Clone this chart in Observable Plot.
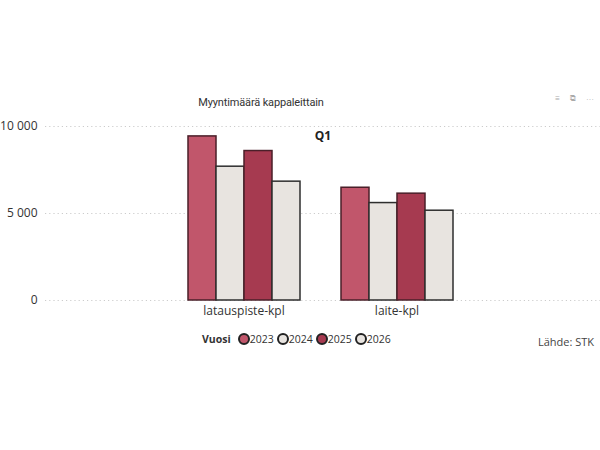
<!DOCTYPE html>
<html>
<head>
<meta charset="utf-8">
<script src="https://cdn.jsdelivr.net/npm/d3@7"></script>
<script src="https://cdn.jsdelivr.net/npm/@observablehq/plot@0.6"></script>
<style>
  html, body { margin: 0; padding: 0; background: #fff; }
  body { width: 600px; height: 450px; position: relative; overflow: hidden; font-family: "Open Sans", "Noto Sans", sans-serif; }
  #title { position: absolute; left: 161px; width: 200px; top: 96px; text-align: center; font-family: Roboto, "Open Sans", sans-serif; font-size: 11px; letter-spacing: -0.15px; color: #333; }
  #grid, #chart { position: absolute; left: 0; top: 116px; }
  #legend { position: absolute; left: 202px; top: 332px; font-size: 10.5px; color: #333; display: flex; align-items: center; white-space: nowrap; }
  #legend b { margin-right: 7px; font-size: 10.5px; }
  #legend .sw { display: inline-block; width: 8px; height: 8px; border-radius: 50%; border: 2px solid #222; margin-right: 0px; }
  #legend .it { display: flex; align-items: center; margin-right: 3px; }
  #source { position: absolute; right: 6px; top: 334px; font-size: 11px; color: #444; }
  #icons { position: absolute; right: 2px; top: 92px; font-size: 8px; color: #aaa; letter-spacing: 4px; }
</style>
</head>
<body>
<div id="title">Myyntimäärä kappaleittain</div>
<div id="icons">≡ ⧉ ⋯</div>
<div id="grid"></div>
<div id="chart"></div>
<div id="legend"></div>
<div id="source">Lähde: STK</div>
<script>
const categories = ["latauspiste-kpl", "laite-kpl"];
const years = ["2023", "2024", "2025", "2026"];
const latauspiste = [9430, 7690, 8590, 6830];
const laite = [6480, 5600, 6140, 5160];
const yTicks = [0, 5000, 10000];
const fills = ["#c1566b", "#e8e4e0", "#a63a50", "#e8e4e0"];
const strokes = ["#4a1f29", "#2e2e2e", "#4a1f29", "#2e2e2e"];

const seriesByCat = {"latauspiste-kpl": latauspiste, "laite-kpl": laite};
const data = [];
for (const c of categories) years.forEach((y, i) => data.push({category: c, year: y, value: seriesByCat[c][i]}));

const common = {
  width: 600,
  height: 214,
  marginLeft: 45,
  marginRight: 0,
  marginTop: 10,
  marginBottom: 30,
  style: {fontFamily: "'Open Sans', sans-serif", fontSize: "12px", color: "#333", background: "transparent"}
};
const fmt = v => d3.format(",")(v).replace(/,/g, " ");

// background layer: grid, y axis, panel label
const grid = Plot.plot({
  ...common,
  y: {domain: [0, 10000], ticks: yTicks, tickFormat: fmt, label: null},
  marks: [
    Plot.ruleY(yTicks, {stroke: "#cccccc", strokeWidth: 1.2, strokeDasharray: "1.2,3"}),
    Plot.axisY(yTicks, {tickSize: 0, tickPadding: 8, tickFormat: fmt, label: null, fill: "#333", fontSize: 12}),
    Plot.text(["Q1"], {frameAnchor: "top", dy: 5, text: d => d, fontWeight: "bold", fontSize: 12, fill: "#222"})
  ]
});
document.getElementById("grid").appendChild(grid);

// bars
const chart = Plot.plot({
  ...common,
  fx: {domain: categories, range: [186, 454], paddingInner: 0.25, paddingOuter: 0, label: null, tickSize: 0, tickPadding: 6},
  x: {domain: years, padding: 0, axis: null},
  y: {domain: [0, 10000], axis: null},
  color: {domain: years, range: fills},
  marks: [
    Plot.barY(data, {fx: "category", x: "year", y: "value", fill: "year", stroke: d => strokes[years.indexOf(d.year)], strokeWidth: 1.5})
  ]
});
document.getElementById("chart").appendChild(chart);

const legend = document.getElementById("legend");
legend.innerHTML = "<b>Vuosi</b>" + years.map((y, i) =>
  `<span class="it"><span class="sw" style="background:${fills[i]}"></span>${y}</span>`).join("");
</script>
</body>
</html>
